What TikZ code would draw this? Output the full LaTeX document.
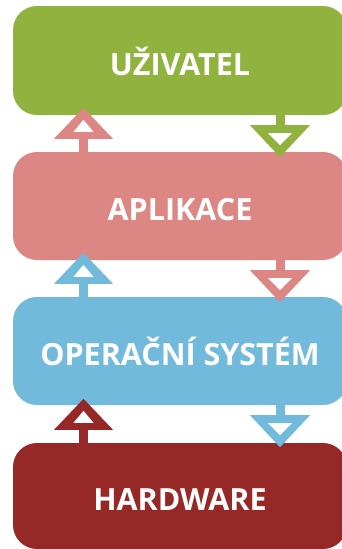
\documentclass[tikz,border=0pt]{standalone}
\usepackage{fontspec}
\setmainfont{Open Sans}
\usetikzlibrary{calc}
\definecolor{cgreen}{RGB}{143,179,62}
\definecolor{cpink}{RGB}{221,135,132}
\definecolor{cblue}{RGB}{114,186,219}
\definecolor{cred}{RGB}{150,40,40}
\tikzset{
  layer/.style={rounded corners=24pt, minimum width=334pt, inner sep=0pt,
    text=white, font=\fontsize{30.5}{36}\selectfont\bfseries,
    text height=29pt, text depth=0pt},
  stemline/.style={line width=9pt},
}
% up arrow: #1 colour, #2 lower node, #3 upper node, #4 x-coordinate name
\newcommand{\uparr}[4]{%
  \draw[stemline,#1] (#2.north -| #4) -- (#3.south -| #4);
  \path (#2.north -| #4) coordinate (tmpb);
  \fill[#1] ($(tmpb)+(-29.5,-13)$) -- ($(tmpb)+(29.5,-13)$) -- ($(tmpb)+(0,-44)$) -- cycle;
  \fill[white] ($(tmpb)+(-10,-20)$) -- ($(tmpb)+(10,-20)$) -- ($(tmpb)+(0,-32)$) -- cycle;
}
% down arrow: #1 colour, #2 upper node, #3 lower node, #4 x-coordinate name
\newcommand{\downarr}[4]{%
  \draw[stemline,#1] (#2.south -| #4) -- (#3.north -| #4);
  \path (#2.south -| #4) coordinate (tmpt);
  \fill[#1] ($(tmpt)+(-30,10)$) -- ($(tmpt)+(30,10)$) -- ($(tmpt)+(0,42)$) -- cycle;
  \fill[white] ($(tmpt)+(-12,18)$) -- ($(tmpt)+(12,18)$) -- ($(tmpt)+(0,30)$) -- cycle;
}
\begin{document}
\begin{tikzpicture}[x=1pt,y=-1pt]
\useasboundingbox (0,0) rectangle (342,549);
\begin{scope}
\clip (0,0) rectangle (342,549);
\node[layer, fill=cgreen, minimum height=109pt] (usr) at (180,60.5) {UŽIVATEL};
\node[layer, fill=cpink, minimum height=108pt] (app) at (180,206) {APLIKACE};
\node[layer, fill=cblue, minimum height=108pt] (os) at (180,351) {OPERAČNÍ SYSTÉM};
\node[layer, fill=cred, minimum height=106pt] (hw) at (180,496) {HARDWARE};
\coordinate (L) at (83.5,0);
\coordinate (R) at (280,0);
\uparr{cpink}{app}{usr}{L}
\downarr{cgreen}{usr}{app}{R}
\uparr{cblue}{os}{app}{L}
\downarr{cpink}{app}{os}{R}
\uparr{cred}{hw}{os}{L}
\downarr{cblue}{os}{hw}{R}
\end{scope}
\end{tikzpicture}
\end{document}
